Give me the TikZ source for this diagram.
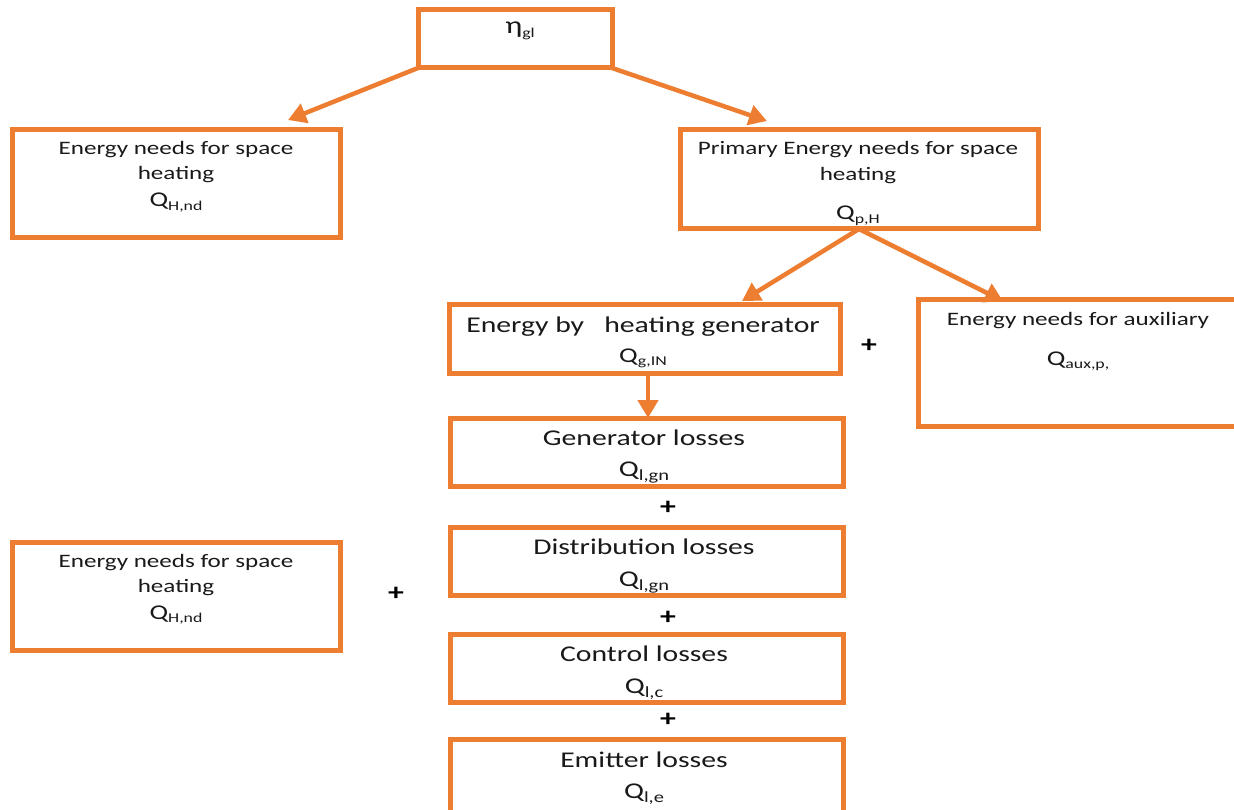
\documentclass[tikz,border=0pt]{standalone}
\usepackage{fontspec}
\setmainfont[FakeStretch=1.32]{Carlito}
\usetikzlibrary{arrows.meta}
\definecolor{orng}{HTML}{ED7D31}
\tikzset{
 box/.style={draw=orng, line width=5pt, rectangle, inner sep=0pt, outer sep=0pt},
 arr/.style={draw=orng, line width=4.5pt, -{Triangle[length=18pt,width=20pt]}},
 sm/.style={anchor=base, inner sep=0pt, font=\fontsize{19}{23}\selectfont, text=black!90},
 lg/.style={anchor=base, inner sep=0pt, font=\fontsize{22.5}{27}\selectfont, text=black!90},
 plus/.style={inner sep=0pt, font=\fontsize{24}{24}\selectfont\bfseries, text=black}
}
\newcommand\ssm[1]{\raisebox{-3.5pt}{\fontsize{13.5}{13.5}\selectfont #1}}
\newcommand\slg[1]{\raisebox{-4.5pt}{\fontsize{15.5}{15.5}\selectfont #1}}
\newcommand\bigQ{{\fontsize{21}{21}\selectfont Q}}
\begin{document}
\begin{tikzpicture}[x=1pt,y=-1pt]
\useasboundingbox (0,0) rectangle (1234,810);
\clip (0,0) rectangle (1234,810);
% boxes
\node[box, minimum width=194pt, minimum height=58pt] (eta) at (515,39) {};
\node[box, minimum width=328pt, minimum height=108pt] (L1) at (176,184) {};
\node[box, minimum width=358pt, minimum height=99pt] (P) at (859,179.5) {};
\node[box, minimum width=391pt, minimum height=68pt] (G) at (644.5,339) {};
\node[box, minimum width=327pt, minimum height=126pt] (Aux) at (1081.5,363) {};
\node[box, minimum width=393pt, minimum height=68pt] (GL) at (646.5,452) {};
\node[box, minimum width=393pt, minimum height=68pt] (DL) at (646.5,561) {};
\node[box, minimum width=393pt, minimum height=68pt] (CL) at (646.5,668) {};
\node[box, minimum width=393pt, minimum height=76pt] (EL) at (646.5,777) {};
\node[box, minimum width=328pt, minimum height=108pt] (L2) at (176,596) {};
% arrow targets
\coordinate (t1) at (288,120);
\coordinate (t2) at (767,121);
\coordinate (t3) at (742,301);
\coordinate (t4) at (1003,301);
\draw[arr] (eta.south west) -- (t1);
\draw[arr] (eta.south east) -- (t2);
\draw[arr] (P.south) -- (t3);
\draw[arr] (P.south) -- (t4);
\draw[arr] ([xshift=3.5pt]G.south) -- ([xshift=3.5pt]G.south |- GL.north);
% texts
\node[sm] (etat) at (520,34) {{\fontsize{24}{24}\selectfont η}\ssm{gl}};
\node[sm] (l1a) at (176,155) {Energy needs for space};
\node[sm] (l1b) at (176,180) {heating};
\node[sm] (l1c) at (176,207) {\bigQ\ssm{H,nd}};
\node[sm] (pa) at (858,155) {Primary Energy needs for space};
\node[sm] (pb) at (858,181) {heating};
\node[sm] (pc) at (858,220) {\bigQ\ssm{p,H}};
\node[lg] (ga) at (643,332) {Energy by\ \ \ heating generator};
\node[sm] (gb) at (643,362) {\bigQ\ssm{g,IN}};
\node[sm] (aa) at (1078,326) {Energy needs for auxiliary};
\node[sm] (ab) at (1078,365) {\bigQ\ssm{aux,p,}};
\node[lg] (gla) at (644,445) {Generator losses};
\node[lg] (glb) at (644,476) {Q\slg{l,gn}};
\node[lg] (dla) at (644,554) {Distribution losses};
\node[lg] (dlb) at (644,586) {Q\slg{l,gn}};
\node[lg] (cla) at (644,661) {Control losses};
\node[lg] (clb) at (644,693) {Q\slg{l,c}};
\node[lg] (ela) at (644,767) {Emitter losses};
\node[lg] (elb) at (644,798) {Q\slg{l,e}};
\node[sm] (l2a) at (176,567) {Energy needs for space};
\node[sm] (l2b) at (176,592) {heating};
\node[sm] (l2c) at (176,619) {\bigQ\ssm{H,nd}};
% plus signs
\node[plus] (p1) at (869,346) {+};
\node[plus] (p2) at (668,508) {+};
\node[plus] (p3) at (668,618) {+};
\node[plus] (p4) at (668,720) {+};
\node[plus] (p5) at (396,594) {+};
\end{tikzpicture}
\end{document}
